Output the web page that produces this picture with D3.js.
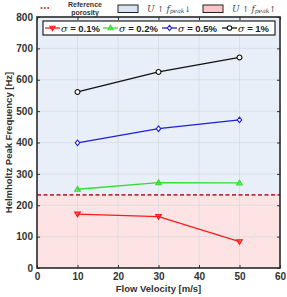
<!DOCTYPE html>
<html>
<head>
<meta charset="utf-8">
<script src="https://cdn.jsdelivr.net/npm/d3@7"></script>
<style>
  body { margin: 0; background: #fff; }
  svg { display: block; font-family: "Liberation Sans", Arial, sans-serif; }
  .tick text { font-weight: bold; fill: #333; font-size: 10px; }
  .grid line { stroke: #d8dbe0; stroke-width: 0.8; }
</style>
</head>
<body>
<div id="chart"></div>
<script>
const velocities = [10, 30, 50];
const seriesNames = ["0.1%", "0.2%", "0.5%", "1%"];
const freq01 = [172, 164, 84];
const freq02 = [251, 272, 271];
const freq05 = [399, 444, 472];
const freq1 = [561, 625, 671];
const referenceFreq = 233;
const xTicks = [0, 10, 20, 30, 40, 50, 60];
const yTicks = [0, 100, 200, 300, 400, 500, 600, 700, 800];

const width = 287, height = 297;
const margin = { top: 17, right: 7, bottom: 29, left: 37 };

const series = [
  { name: seriesNames[0], values: freq01, color: "#ff1a1a", symbol: "down", fill: "#ff1a1a" },
  { name: seriesNames[1], values: freq02, color: "#33dd33", symbol: "up", fill: "#33dd33" },
  { name: seriesNames[2], values: freq05, color: "#1f1fd6", symbol: "diamond", fill: "#fff" },
  { name: seriesNames[3], values: freq1, color: "#111", symbol: "circle", fill: "#fff" },
];

const x = d3.scaleLinear().domain([0, 60]).range([margin.left, width - margin.right]);
const y = d3.scaleLinear().domain([0, 800]).range([height - margin.bottom, margin.top]);

const svg = d3.select("#chart").append("svg")
  .attr("width", width).attr("height", height);

// background regions
svg.append("rect")
  .attr("x", x(0)).attr("y", y(800))
  .attr("width", x(60) - x(0)).attr("height", y(referenceFreq) - y(800))
  .attr("fill", "#e9eff8");
svg.append("rect")
  .attr("x", x(0)).attr("y", y(referenceFreq))
  .attr("width", x(60) - x(0)).attr("height", y(0) - y(referenceFreq))
  .attr("fill", "#fde3e4");

// grid
const grid = svg.append("g").attr("class", "grid");
grid.selectAll(".gx").data(xTicks.slice(1, -1)).join("line")
  .attr("x1", (d) => x(d)).attr("x2", (d) => x(d))
  .attr("y1", y(0)).attr("y2", y(800));
grid.selectAll(".gy").data(yTicks.slice(1, -1)).join("line")
  .attr("class", "gy")
  .attr("x1", x(0)).attr("x2", x(60))
  .attr("y1", (d) => y(d)).attr("y2", (d) => y(d));

// reference line
svg.append("line")
  .attr("x1", x(0)).attr("x2", x(60))
  .attr("y1", y(referenceFreq)).attr("y2", y(referenceFreq))
  .attr("stroke", "#b8333a").attr("stroke-width", 1.6)
  .attr("stroke-dasharray", "4,2.5");

// axes
svg.append("g")
  .attr("transform", `translate(0,${y(0)})`)
  .call(d3.axisBottom(x).tickValues(xTicks).tickSize(-3).tickPadding(5))
  .call((g) => g.select(".domain").remove())
  .call((g) => g.selectAll(".tick line").attr("stroke", "#333"));
svg.append("g")
  .attr("transform", `translate(0,${y(800)})`)
  .call(d3.axisTop(x).tickValues(xTicks).tickSize(-3).tickFormat(""))
  .call((g) => g.select(".domain").remove())
  .call((g) => g.selectAll(".tick line").attr("stroke", "#333"));
svg.append("g")
  .attr("transform", `translate(${x(0)},0)`)
  .call(d3.axisLeft(y).tickValues(yTicks).tickSize(-3).tickPadding(4))
  .call((g) => g.select(".domain").remove())
  .call((g) => g.selectAll(".tick line").attr("stroke", "#333"));
svg.append("g")
  .attr("transform", `translate(${x(60)},0)`)
  .call(d3.axisRight(y).tickValues(yTicks).tickSize(-3).tickFormat(""))
  .call((g) => g.select(".domain").remove())
  .call((g) => g.selectAll(".tick line").attr("stroke", "#333"));

svg.append("rect")
  .attr("x", x(0)).attr("y", y(800))
  .attr("width", x(60) - x(0)).attr("height", y(0) - y(800))
  .attr("fill", "none").attr("stroke", "#2a2a2a").attr("stroke-width", 1.6);

// axis titles
svg.append("text")
  .attr("x", (x(0) + x(60)) / 2).attr("y", height - 5)
  .attr("text-anchor", "middle")
  .attr("font-size", 9.5).attr("font-weight", "bold").attr("fill", "#333")
  .text("Flow Velocity [m/s]");
svg.append("text")
  .attr("transform", `translate(12,${(y(0) + y(800)) / 2}) rotate(-90)`)
  .attr("text-anchor", "middle")
  .attr("font-size", 9.5).attr("font-weight", "bold").attr("fill", "#333")
  .text("Helmholtz Peak Frequency [Hz]");

// markers
function markerPath(symbol, size) {
  const s = size;
  if (symbol === "down") return `M${-s},${-s * 0.7}L${s},${-s * 0.7}L0,${s}Z`;
  if (symbol === "up") return `M${-s},${s * 0.7}L${s},${s * 0.7}L0,${-s}Z`;
  if (symbol === "diamond") return `M0,${-s}L${s * 0.8},0L0,${s}L${-s * 0.8},0Z`;
  return d3.symbol(d3.symbolCircle, Math.PI * s * s * 0.75)();
}

const line = d3.line().x((d) => x(d[0])).y((d) => y(d[1]));
const sg = svg.selectAll(".series").data(series).join("g").attr("class", "series");
sg.append("path")
  .attr("d", (d) => line(velocities.map((v, i) => [v, d.values[i]])))
  .attr("fill", "none").attr("stroke", (d) => d.color).attr("stroke-width", 1.3);
sg.selectAll(".pt").data((d) => velocities.map((v, i) => ({ s: d, v, f: d.values[i] })))
  .join("path")
  .attr("transform", (d) => `translate(${x(d.v)},${y(d.f)})`)
  .attr("d", (d) => markerPath(d.s.symbol, 2.8))
  .attr("fill", (d) => d.s.fill).attr("fill-opacity", (d) => d.s.fill === "#fff" ? 1 : 0.6)
  .attr("stroke", (d) => d.s.color).attr("stroke-width", 1.1);

// inner legend
const leg = svg.append("g");
leg.append("rect")
  .attr("x", 43).attr("y", 21).attr("width", 232).attr("height", 14)
  .attr("fill", "#fff").attr("stroke", "#222").attr("stroke-width", 1.2);
const legX = [45, 103, 162, 222];
series.forEach((s, i) => {
  const g = leg.append("g").attr("transform", `translate(${legX[i]},28)`);
  g.append("line").attr("x1", 0).attr("x2", 15).attr("stroke", s.color).attr("stroke-width", 1.3);
  g.append("path").attr("transform", "translate(7.5,0)")
    .attr("d", markerPath(s.symbol, 2.6))
    .attr("fill", s.fill).attr("fill-opacity", s.fill === "#fff" ? 1 : 0.6)
    .attr("stroke", s.color).attr("stroke-width", 1.1);
  const t = g.append("text").attr("x", 16).attr("y", 3.5)
    .attr("font-size", 9.5).attr("font-weight", "bold").attr("fill", "#222");
  t.append("tspan").attr("font-family", "'DejaVu Serif', serif").attr("font-style", "italic")
    .attr("font-weight", "normal").text("σ");
  t.append("tspan").text(` = ${s.name}`);
});

// top legend
const topLeg = svg.append("g");
topLeg.selectAll(".dot").data([0, 1, 2]).join("circle")
  .attr("cx", (d) => 41.5 + d * 3.3).attr("cy", 8).attr("r", 1)
  .attr("fill", "#d22");
topLeg.append("text").attr("x", 85).attr("y", 7).attr("text-anchor", "middle")
  .attr("font-size", 7).attr("font-weight", "bold").attr("fill", "#333").text("Reference");
topLeg.append("text").attr("x", 85).attr("y", 14.5).attr("text-anchor", "middle")
  .attr("font-size", 7).attr("font-weight", "bold").attr("fill", "#333").text("porosity");

const boxes = [
  { x: 118, fill: "#dbe4f2", dir: "↓" },
  { x: 203, fill: "#f8c6c8", dir: "↑" },
];
boxes.forEach((b) => {
  topLeg.append("rect").attr("x", b.x).attr("y", 5).attr("width", 20).attr("height", 7.5)
    .attr("fill", b.fill).attr("stroke", "#222").attr("stroke-width", 1);
  const t = topLeg.append("text").attr("x", b.x + 29).attr("y", 11.5)
    .attr("font-size", 9).attr("fill", "#444")
    .attr("font-family", "'DejaVu Serif', serif");
  t.append("tspan").attr("font-style", "italic").text("U");
  t.append("tspan").attr("font-size", 8).text(" ↑ ");
  t.append("tspan").attr("font-style", "italic").text("f");
  t.append("tspan").attr("font-style", "italic").attr("font-size", 6).attr("dy", 1.5).text("peak");
  t.append("tspan").attr("font-size", 8).attr("dy", -1.5).text(b.dir);
});
</script>
</body>
</html>
